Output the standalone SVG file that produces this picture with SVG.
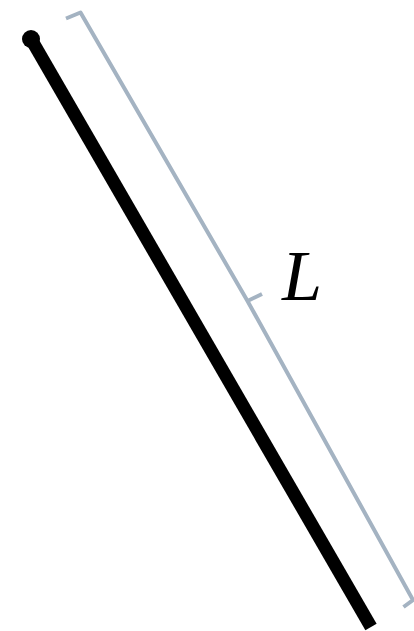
<svg xmlns="http://www.w3.org/2000/svg" width="414" height="631" viewBox="0 0 414 631">
<style>
.rod{stroke:#000;stroke-width:13;fill:none;stroke-linecap:butt}
.brace{stroke:#a4b3c2;stroke-width:4;fill:none;stroke-linejoin:round;stroke-linecap:butt}
.lbl{font-family:"Liberation Serif",serif;font-style:italic;font-size:72px;fill:#000}
</style>
<rect width="414" height="631" fill="#fff"/>
<g id="rod">
<line class="rod" x1="31" y1="39" x2="371" y2="627"/>
<circle cx="31" cy="39" r="9" fill="#000"/>
</g>
<g id="connectors">
<path class="brace" d="M66,18.5 L80.5,12.5 L247.5,301 L413,600 L403.5,607"/>
<path class="brace" d="M247.5,301 L262,294"/>
</g>
<g id="label">
<text class="lbl" x="282" y="300">L</text>
</g>
</svg>
